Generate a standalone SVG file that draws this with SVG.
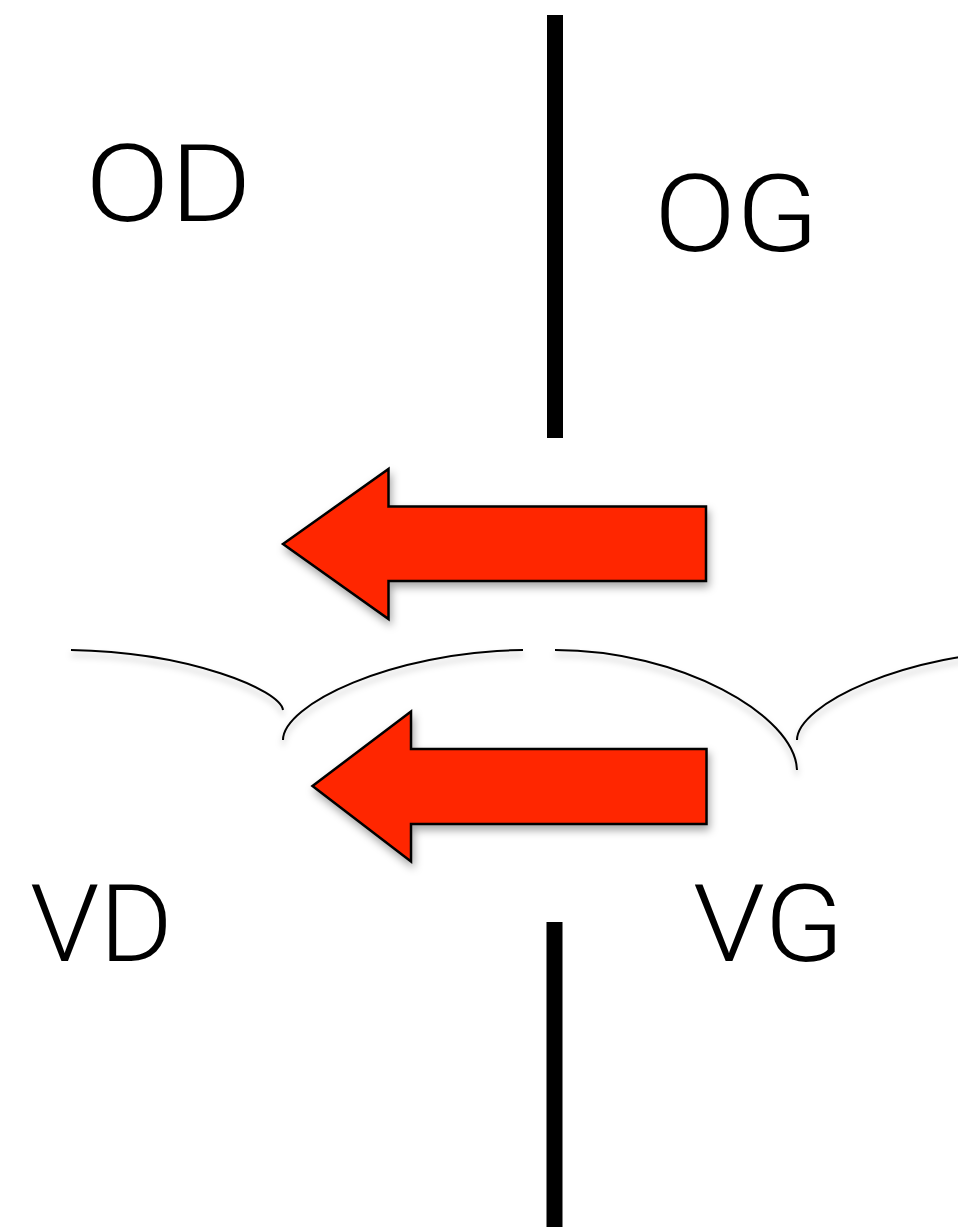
<svg xmlns="http://www.w3.org/2000/svg" width="958" height="1227" viewBox="0 0 958 1227">
<style>
.lbl{font-family:Roboto,"Liberation Sans",sans-serif;font-weight:300;font-size:108px;fill:#000}
.bar{fill:#000}
.arrow{fill:#FF2600;stroke:#000;stroke-width:2.5;stroke-linejoin:miter;filter:url(#sh)}
.brace{fill:none;stroke:#000;stroke-width:2;filter:url(#sh2)}
</style>
<defs>
<filter id="sh" x="-20%" y="-20%" width="140%" height="150%">
<feDropShadow dx="2" dy="5" stdDeviation="4" flood-color="#000" flood-opacity="0.35"/>
</filter>
<filter id="sh2" x="-10%" y="-30%" width="120%" height="180%">
<feDropShadow dx="0" dy="5" stdDeviation="3" flood-color="#000" flood-opacity="0.25"/>
</filter>
</defs>
<g id="bar-top"><rect class="bar" x="547" y="15" width="16" height="423"/></g>
<g id="bar-bottom"><rect class="bar" x="546.5" y="922" width="16" height="305"/></g>
<g id="label-OD"><text class="lbl" x="85" y="221" textLength="167" lengthAdjust="spacingAndGlyphs">OD</text></g>
<g id="label-OG"><text class="lbl" x="654" y="251" textLength="165" lengthAdjust="spacingAndGlyphs">OG</text></g>
<g id="label-VD"><text class="lbl" x="30" y="961" textLength="143" lengthAdjust="spacingAndGlyphs">VD</text></g>
<g id="label-VG"><text class="lbl" x="693" y="961" textLength="151" lengthAdjust="spacingAndGlyphs">VG</text></g>
<g id="braces">
<path class="brace" d="M71,650 C190,652 280,690 283,710"/>
<path class="brace" d="M283,740 C283,705 390,652 523,650"/>
<path class="brace" d="M555,650 C680,650 795,715 797,770"/>
<path class="brace" d="M797,740 C797,705 904,652 1037,650"/>
</g>
<g id="connectors">
<path id="arrow-top" class="arrow" d="M283,544 L388.5,469 L388.5,506.5 L706,506.5 L706,581 L388.5,581 L388.5,619 Z"/>
<path id="arrow-bottom" class="arrow" d="M312.5,786 L411,711.5 L411,749 L706.5,749 L706.5,824 L411,824 L411,861.5 Z"/>
</g>
</svg>
